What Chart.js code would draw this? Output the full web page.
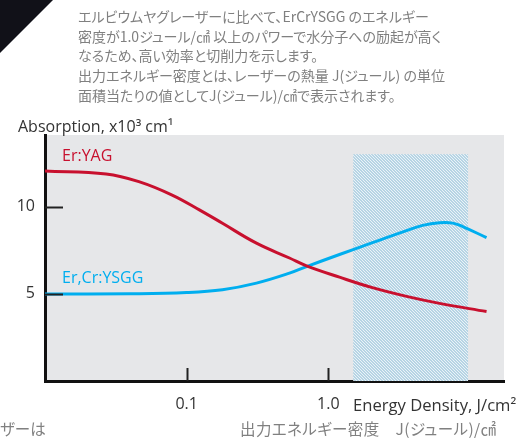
<!DOCTYPE html>
<html>
<head>
<meta charset="utf-8">
<script src="https://cdn.jsdelivr.net/npm/chart.js@4.4.1/dist/chart.umd.min.js"></script>
<style>
  html, body { margin: 0; padding: 0; background: #fff; }
  #wrap { position: relative; width: 519px; height: 439px; overflow: hidden; }
  #chart { position: absolute; left: 0; top: 0; }
  .corner { position: absolute; left: 0; top: 0; width: 0; height: 0;
    border-top: 53px solid #111118; border-right: 53px solid transparent; }
  .jp { position: absolute; font-family: "Noto Sans CJK JP", sans-serif; font-size: 14px;
    color: #808080; white-space: nowrap; font-feature-settings: "palt"; }
  .note { left: 78px; top: 7px; line-height: 19.7px; }
  .lbl { position: absolute; font-family: "Open Sans", sans-serif; font-size: 16px;
    line-height: 20px; white-space: nowrap; }
</style>
</head>
<body>
<div id="wrap">
  <canvas id="chart" width="519" height="439"></canvas>
  <div class="corner"></div>
  <div class="jp note">エルビウムヤグレーザーに比べて、ErCrYSGG のエネルギー<br>密度が1.0ジュール/㎠ 以上のパワーで水分子への励起が高く<br>なるため、高い効率と切削力を示します。<br>出力エネルギー密度とは、レーザーの熱量 J(ジュール) の単位<br>面積当たりの値としてJ(ジュール)/㎠で表示されます。</div>
  <div class="lbl" style="left:18px;top:116px;color:#333;">Absorption, x10³ cm¹</div>
  <div class="lbl" style="left:62px;top:145px;color:#c8102e;">Er:YAG</div>
  <div class="lbl" style="left:62px;top:267px;color:#00aeef;">Er,Cr:YSGG</div>
  <div class="lbl" style="left:353px;top:395px;color:#333;font-size:16.6px;">Energy Density, J/cm²</div>
  <div class="jp" style="left:0;top:418px;line-height:20px;font-size:15.5px;">ザーは</div>
  <div class="jp" style="left:240px;top:418px;line-height:20px;font-size:15.5px;letter-spacing:0.4px;">出力エネルギー密度　J(ジュール)/㎠</div>
</div>
<script>
// values
const yagEnergy = [0.01, 0.027, 0.046, 0.079, 0.123, 0.179, 0.311, 0.532, 0.702, 1.2, 2.05, 3.57, 6.1, 13.1];
const yagAbs = [12.04, 11.87, 11.43, 10.66, 9.81, 9.04, 7.9, 7.05, 6.6, 5.95, 5.35, 4.85, 4.45, 3.98];
const ysggEnergy = [0.01, 0.04, 0.1, 0.179, 0.311, 0.532, 0.702, 1.2, 2.05, 3.57, 4.64, 6.1, 7.55, 8.89, 13.1];
const ysggAbs = [4.98, 5.0, 5.07, 5.23, 5.61, 6.18, 6.56, 7.25, 7.93, 8.62, 8.92, 9.07, 9.05, 8.85, 8.22];
const xTickValues = [0.1, 1];
const xTickLabels = ["0.1", "1.0"];
const yTickValues = [5, 10];
const bandEnergy = [1.5, 9.7];
const bandTop = 13;

const toPoints = (xs, ys) => xs.map((x, i) => ({ x: x, y: ys[i] }));

// hatch pattern for the shaded band
function makeHatch(ctx) {
  const c = document.createElement("canvas");
  c.width = 3; c.height = 3;
  const g = c.getContext("2d");
  g.fillStyle = "#b6d4e4";
  g.fillRect(0, 0, 3, 3);
  g.fillStyle = "#eaf3f8";
  for (let i = 0; i < 3; i++) g.fillRect(i, i, 1, 1);
  return ctx.createPattern(c, "repeat");
}

const decorPlugin = {
  id: "decor",
  beforeDraw(chart) {
    const { ctx, chartArea: a } = chart;
    ctx.save();
    ctx.fillStyle = "#e6e7e9";
    ctx.fillRect(a.left, a.top, a.right - a.left, a.bottom - a.top);
    ctx.restore();
  },
  beforeDatasetsDraw(chart) {
    const { ctx, scales } = chart;
    const x0 = scales.x.getPixelForValue(bandEnergy[0]);
    const x1 = scales.x.getPixelForValue(bandEnergy[1]);
    const yT = scales.y.getPixelForValue(bandTop);
    const yB = scales.y.getPixelForValue(0);
    ctx.save();
    ctx.fillStyle = makeHatch(ctx);
    ctx.fillRect(x0, yT, x1 - x0, yB - yT);
    ctx.restore();
  },
  afterDatasetsDraw(chart) {
    const { ctx, scales, chartArea: a } = chart;
    ctx.save();
    ctx.strokeStyle = "#222";
    ctx.lineWidth = 2;
    yTickValues.forEach((v) => {
      const y = Math.round(scales.y.getPixelForValue(v)) + 0.5;
      ctx.beginPath();
      ctx.moveTo(a.left, y);
      ctx.lineTo(a.left + 18, y);
      ctx.stroke();
    });
    xTickValues.forEach((v) => {
      const x = Math.round(scales.x.getPixelForValue(v)) + 0.5;
      ctx.beginPath();
      ctx.moveTo(x, a.bottom);
      ctx.lineTo(x, a.bottom - 13);
      ctx.stroke();
    });
    ctx.restore();
  },
};

new Chart(document.getElementById("chart"), {
  type: "line",
  data: {
    datasets: [
      {
        label: "Er:YAG",
        data: toPoints(yagEnergy, yagAbs),
        borderColor: "#c8102e",
        borderWidth: 3,
        pointRadius: 0,
        tension: 0.4,
      },
      {
        label: "Er,Cr:YSGG",
        data: toPoints(ysggEnergy, ysggAbs),
        borderColor: "#00aeef",
        borderWidth: 3,
        pointRadius: 0,
        tension: 0.4,
      },
    ],
  },
  options: {
    responsive: false,
    animation: false,
    layout: { padding: { top: 135, right: 15, left: 0, bottom: 0 } },
    plugins: { legend: { display: false }, tooltip: { enabled: false } },
    scales: {
      x: {
        type: "logarithmic",
        min: 0.01,
        max: 17.4,
        afterBuildTicks: (s) => { s.ticks = xTickValues.map((v) => ({ value: v })); },
        afterFit: (s) => { s.height = 58; },
        grid: { display: false, drawTicks: false },
        border: { display: true, color: "#111", width: 3 },
        ticks: {
          autoSkip: false,
          maxRotation: 0,
          padding: 14,
          color: "#333",
          font: { family: "Open Sans", size: 16 },
          callback: (v, i) => xTickLabels[i],
        },
      },
      y: {
        min: 0,
        max: 14.1,
        afterBuildTicks: (s) => { s.ticks = yTickValues.map((v) => ({ value: v })); },
        afterFit: (s) => { s.width = 45; },
        grid: { display: false, drawTicks: false },
        border: { display: true, color: "#111", width: 3 },
        ticks: {
          padding: 10,
          color: "#333",
          font: { family: "Open Sans", size: 16 },
        },
      },
    },
  },
  plugins: [decorPlugin],
});
</script>
</body>
</html>
